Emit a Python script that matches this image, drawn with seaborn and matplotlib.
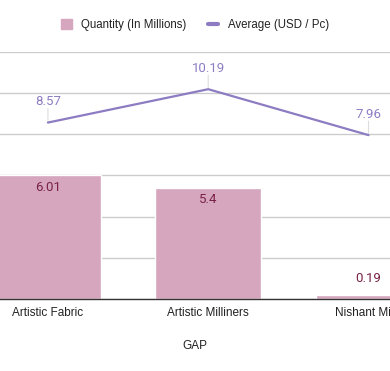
import matplotlib
matplotlib.use("Agg")
import matplotlib.pyplot as plt
import seaborn as sns
import pandas as pd
import numpy as np
from matplotlib.patches import Patch
from matplotlib.lines import Line2D

categories = ["Artistic Fabric", "Artistic Milliners", "Nishant Mills"]
quantity = [6.01, 5.4, 0.19]
average = [8.57, 10.19, 7.96]
x_title = "GAP"
legend_labels = ["Quantity (In Millions)", "Average (USD / Pc)"]

BAR = "#d5a6bd"
LINE = "#8e7cc3"
BAR_LBL = "#7a2148"

sns.set_theme(style="white")
plt.rcParams["font.family"] = ["Liberation Sans", "DejaVu Sans"]

df = pd.DataFrame({"cat": categories, "qty": quantity, "avg": average})

fig = plt.figure(figsize=(3.9, 3.71), dpi=100)
ax = fig.add_axes([0, 0.194, 1, 0.666])

sns.barplot(data=df, x="cat", y="qty", color=BAR, saturation=1, width=0.66, ax=ax, zorder=2)
pos = np.arange(len(categories))
sns.lineplot(x=pos, y=df["avg"].values, color=LINE, linewidth=1.6, ax=ax, zorder=3)

ax.set_ylim(0, 12)
ax.set_xlim(-0.299, 2.134)
ax.set_yticks(np.arange(0, 13, 2))
ax.yaxis.grid(True, color="#cccccc", linewidth=1)
ax.set_axisbelow(True)
for s in ["top", "right", "left"]:
    ax.spines[s].set_visible(False)
ax.spines["bottom"].set_color("#333333")
ax.spines["bottom"].set_linewidth(1)
ax.tick_params(axis="y", left=False, labelleft=False)
ax.tick_params(axis="x", bottom=False, labelsize=8.5, colors="#222222", pad=0)
ax.set_ylabel("")
ax.set_xlabel(x_title, fontsize=8.5, color="#222222", labelpad=15)

# bar labels
for p, v in zip(pos, quantity):
    off = -12 if v > 1 else 17
    ax.annotate(f"{v:g}", (p, v), xytext=(0, off), textcoords="offset pixels",
                ha="center", va="center", fontsize=9.5, color=BAR_LBL, family="Roboto", zorder=4)

# line labels with leader lines
for p, v in zip(pos, average):
    ax.annotate(f"{v:g}", (p, v), xytext=(0, 21), textcoords="offset pixels",
                ha="center", va="center", fontsize=9.5, color=LINE, family="Roboto", zorder=4)
    ax.annotate("", (p, v), xytext=(0, 14), textcoords="offset pixels",
                arrowprops=dict(arrowstyle="-", color="#dddddd", linewidth=0.8, shrinkA=0, shrinkB=0), zorder=2.5)

handles = [Patch(facecolor=BAR, edgecolor=BAR),
           Line2D([0], [0], color=LINE, linewidth=3)]
fig.legend(handles, legend_labels, loc="center", bbox_to_anchor=(0.5, 1 - 25 / 371), ncol=2,
           frameon=False, fontsize=8.3, labelcolor="#222222", handlelength=0.9, handleheight=0.9,
           columnspacing=1.9, handletextpad=0.8)

fig.savefig("out.png", dpi=100)
